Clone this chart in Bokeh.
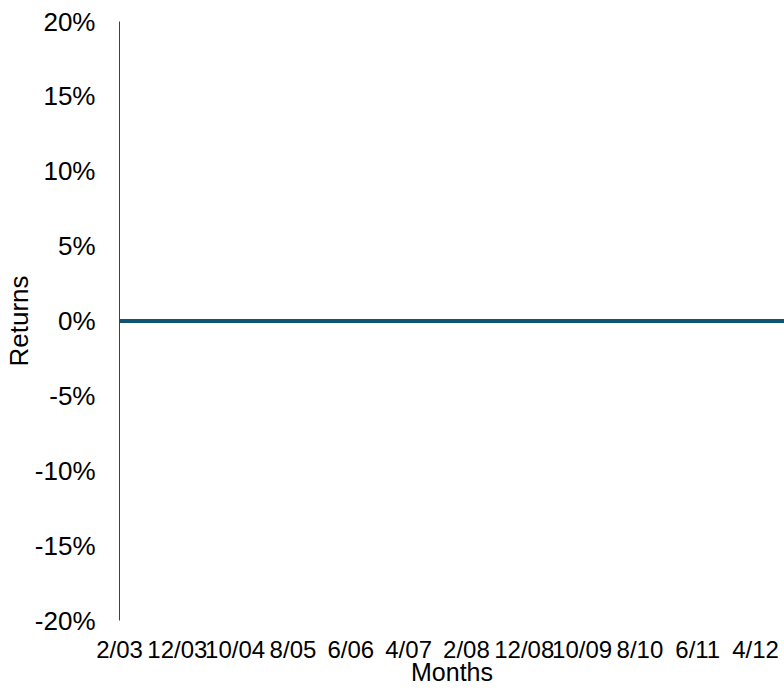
import pandas as pd
from bokeh.plotting import figure
from bokeh.models import FixedTicker, Range1d, NumeralTickFormatter
from bokeh.embed import file_html
from bokeh.resources import INLINE

# Monthly dates from Feb 2003 to Sep 2012
months = [d.strftime("%-m/%y") for d in pd.date_range("2003-02-01", "2012-09-01", freq="MS")]

# Returns (flat at 0%)
returns = [
    0.0, 0.0, 0.0, 0.0, 0.0, 0.0, 0.0, 0.0, 0.0, 0.0, 0.0, 0.0,
    0.0, 0.0, 0.0, 0.0, 0.0, 0.0, 0.0, 0.0, 0.0, 0.0, 0.0, 0.0,
    0.0, 0.0, 0.0, 0.0, 0.0, 0.0, 0.0, 0.0, 0.0, 0.0, 0.0, 0.0,
    0.0, 0.0, 0.0, 0.0, 0.0, 0.0, 0.0, 0.0, 0.0, 0.0, 0.0, 0.0,
    0.0, 0.0, 0.0, 0.0, 0.0, 0.0, 0.0, 0.0, 0.0, 0.0, 0.0, 0.0,
    0.0, 0.0, 0.0, 0.0, 0.0, 0.0, 0.0, 0.0, 0.0, 0.0, 0.0, 0.0,
    0.0, 0.0, 0.0, 0.0, 0.0, 0.0, 0.0, 0.0, 0.0, 0.0, 0.0, 0.0,
    0.0, 0.0, 0.0, 0.0, 0.0, 0.0, 0.0, 0.0, 0.0, 0.0, 0.0, 0.0,
    0.0, 0.0, 0.0, 0.0, 0.0, 0.0, 0.0, 0.0, 0.0, 0.0, 0.0, 0.0,
    0.0, 0.0, 0.0, 0.0, 0.0, 0.0, 0.0, 0.0,
]

x_tick_labels = ["2/03", "12/03", "10/04", "8/05", "6/06", "4/07",
                 "2/08", "12/08", "10/09", "8/10", "6/11", "4/12"]
y_ticks = [-0.20, -0.15, -0.10, -0.05, 0.0, 0.05, 0.10, 0.15, 0.20]

xs = list(range(len(months)))
x_tick_pos = [months.index(lbl) for lbl in x_tick_labels]

FONT = "Liberation Sans"

p = figure(width=784, height=688, output_backend="svg", toolbar_location=None,
           x_range=Range1d(0, len(months) - 1), y_range=Range1d(-0.20, 0.20),
           min_border_left=0, min_border_right=0, min_border_top=21, min_border_bottom=0)

p.line(xs, returns, line_color="#0f5470", line_width=4, line_cap="round")

p.grid.visible = False
p.outline_line_color = None
p.background_fill_color = "white"
p.border_fill_color = "white"

# x axis
xa = p.xaxis[0]
xa.ticker = FixedTicker(ticks=x_tick_pos)
xa.major_label_overrides = {pos: lbl for pos, lbl in zip(x_tick_pos, x_tick_labels)}
xa.axis_line_color = None
xa.major_tick_line_color = None
xa.minor_tick_line_color = None
xa.major_tick_out = 0
xa.major_tick_in = 0
xa.major_label_standoff = 15
xa.major_label_text_font = FONT
xa.major_label_text_font_size = "24px"
xa.major_label_text_color = "black"
xa.axis_label = "Months"
xa.axis_label_text_font = FONT
xa.axis_label_text_font_size = "25px"
xa.axis_label_text_font_style = "normal"
xa.axis_label_text_color = "black"
xa.axis_label_standoff = -8

# y axis
ya = p.yaxis[0]
ya.ticker = FixedTicker(ticks=y_ticks)
ya.formatter = NumeralTickFormatter(format="0%")
ya.axis_line_color = "#404040"
ya.axis_line_width = 1
ya.major_tick_line_color = None
ya.minor_tick_line_color = None
ya.major_tick_out = 0
ya.major_tick_in = 0
ya.major_label_standoff = 24
ya.major_label_text_font = FONT
ya.major_label_text_font_size = "26px"
ya.major_label_text_color = "black"
ya.axis_label = "Returns"
ya.axis_label_text_font = FONT
ya.axis_label_text_font_size = "26px"
ya.axis_label_text_font_style = "normal"
ya.axis_label_text_color = "black"
ya.axis_label_standoff = -2

open("out.html", "w").write(file_html(p, INLINE))
